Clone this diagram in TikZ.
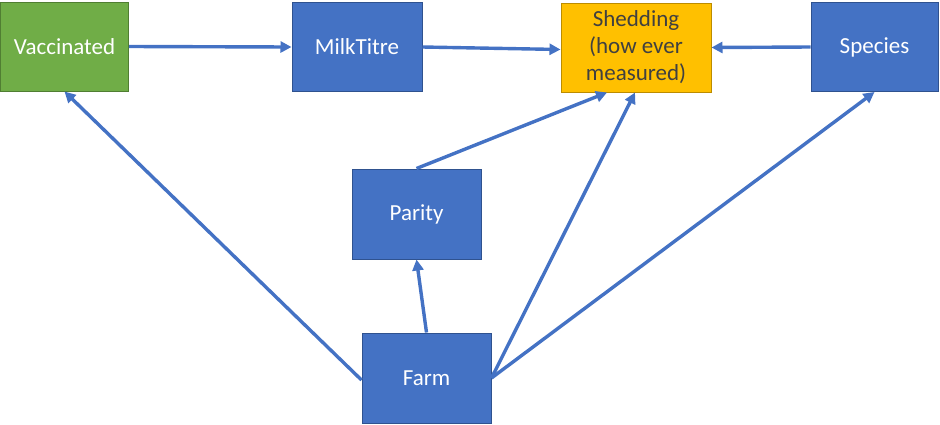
\documentclass[tikz,border=0pt]{standalone}
\usepackage{fontspec}
\setmainfont{Carlito}
\usetikzlibrary{arrows.meta}
\definecolor{boxblue}{HTML}{4472C4}
\definecolor{boxblueline}{HTML}{2F528F}
\definecolor{boxgreen}{HTML}{70AD47}
\definecolor{boxgreenline}{HTML}{507E32}
\definecolor{boxgold}{HTML}{FFC000}
\definecolor{boxgoldline}{HTML}{BC8C00}
\definecolor{goldtext}{HTML}{404040}
\tikzset{
  box/.style={draw=boxblueline, fill=boxblue, line width=1pt, text=white,
    minimum height=89pt, inner sep=0pt, align=center,
    font=\fontsize{23}{27}\selectfont},
  greenbox/.style={box, draw=boxgreenline, fill=boxgreen},
  goldbox/.style={box, draw=boxgoldline, fill=boxgold, text=goldtext},
  arr/.style={draw=boxblue, line width=3.4pt, -{Triangle[length=11pt,width=11pt]}}
}
\begin{document}
\begin{tikzpicture}[x=1pt,y=-1pt]
\useasboundingbox (0,0) rectangle (940,424);
\node[greenbox, minimum width=128pt] (vac) at (64.5,46.5) {Vaccinated};
\node[box, minimum width=130pt] (milk) at (357,47) {MilkTitre};
\node[goldbox, minimum width=150pt] (shed) at (636,47.5) {Shedding\\(how ever\\measured)};
\node[box, minimum width=127pt] (spec) at (874.5,47) {Species};
\node[box, minimum width=129pt, minimum height=90pt] (par) at (416.5,214) {Parity};
\node[box, minimum width=129pt, minimum height=90pt] (farm) at (426.5,378) {Farm};
\draw[arr] (vac.east) -- (milk.west);
\draw[arr] (milk.east) -- ([yshift=-2pt]shed.west);
\draw[arr] (spec.west) -- (shed.east);
\draw[arr] ([yshift=-2pt]farm.west) -- (vac.south);
\draw[arr] (farm.north) -- (par.south);
\draw[arr] (par.north) -- ([xshift=-29pt]shed.south);
\draw[arr] (farm.east) -- ([xshift=-1pt]shed.south);
\draw[arr] (farm.east) -- (spec.south);
\end{tikzpicture}
\end{document}
